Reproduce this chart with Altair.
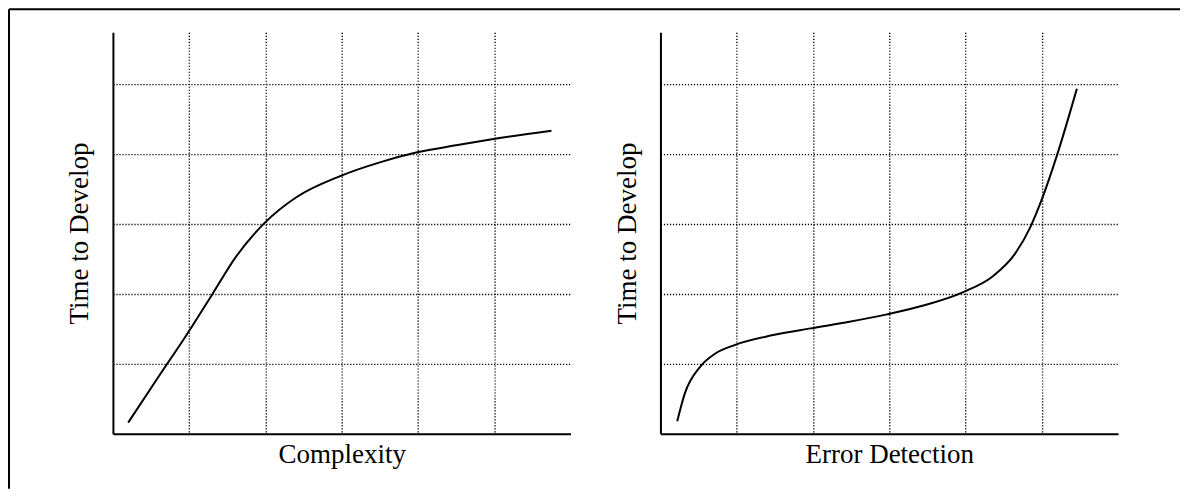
import altair as alt
import pandas as pd

# Values (grid units)
left_x = [0.20, 0.60, 0.98, 1.31, 1.61, 1.99, 2.41, 2.98, 3.51, 3.99, 4.50, 4.99, 5.75]
left_y = [0.16, 0.82, 1.44, 2.01, 2.53, 3.02, 3.39, 3.69, 3.89, 4.03, 4.13, 4.22, 4.34]

right_x = [0.22, 0.32, 0.52, 0.72, 0.97, 1.46, 1.97, 2.46, 2.97, 3.46, 3.97, 4.35, 4.65, 4.85, 4.97, 5.20, 5.46]
right_y = [0.18, 0.58, 0.96, 1.15, 1.27, 1.41, 1.51, 1.60, 1.71, 1.84, 2.03, 2.25, 2.58, 2.96, 3.27, 3.99, 4.94]

x_ticks = [1, 2, 3, 4, 5]
y_ticks = [1, 2, 3, 4, 5]
x_domain = [0, 6]
y_domain = [0, 5.75]
x_titles = ["Complexity", "Error Detection"]
y_title = "Time to Develop"

FONT = "Liberation Serif"
W, H = 458, 402


def axis_common(title, values, pad):
    return alt.Axis(
        title=title, values=values, labels=False, ticks=False,
        grid=True, gridDash=[1.2, 1.8], gridColor="black", gridWidth=1.4, gridOpacity=1,
        domainColor="black", domainWidth=2,
        titleFont=FONT, titleFontSize=27, titleFontWeight="normal", titleColor="black",
        titlePadding=pad,
    )


def panel(xs, ys, xtitle):
    df = pd.DataFrame({"x": xs, "y": ys})
    return alt.Chart(df).mark_line(color="black", strokeWidth=2, interpolate="monotone").encode(
        x=alt.X("x:Q", scale=alt.Scale(domain=x_domain, nice=False, zero=False),
                axis=axis_common(xtitle, x_ticks, 8)),
        y=alt.Y("y:Q", scale=alt.Scale(domain=y_domain, nice=False, zero=False),
                axis=axis_common(y_title, y_ticks, 19)),
    ).properties(width=W, height=H)


one = pd.DataFrame({"k": [0]})
border_left = alt.Chart(one).mark_rule(color="black", strokeWidth=2).encode(
    x=alt.value(-104), y=alt.value(-23), y2=alt.value(457))
border_top = alt.Chart(one).mark_rule(color="black", strokeWidth=2).encode(
    x=alt.value(-104), x2=alt.value(1068), y=alt.value(-23))

left = alt.layer(panel(left_x, left_y, x_titles[0]), border_left, border_top)
right = panel(right_x, right_y, x_titles[1])

chart = alt.hconcat(left, right, spacing=90, bounds="flush").properties(
    padding=0
).configure_view(stroke=None)

chart.save("out.html", embed_options={"renderer": "svg", "actions": False})
